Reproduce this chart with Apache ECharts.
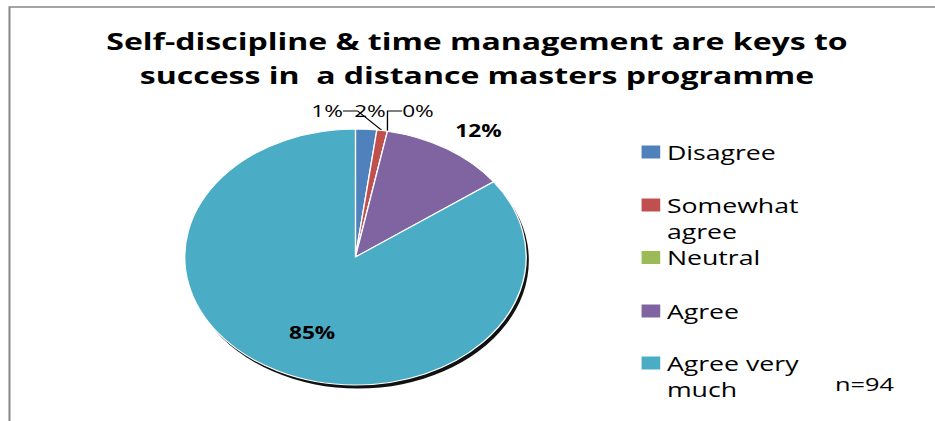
<!DOCTYPE html>
<html><head><meta charset="utf-8">
<script src="https://cdn.jsdelivr.net/npm/echarts@6/dist/echarts.min.js"></script>
<style>
html,body{margin:0;padding:0;background:#fff;overflow:hidden;}
#chart{width:701px;height:421px;transform:scaleX(1.3338);transform-origin:0 0;}
</style></head><body><div id="chart"></div>
<script>
// ---- data ----
const categories = ['Disagree', 'Somewhat agree', 'Neutral', 'Agree', 'Agree very much'];
const percentValues = [2, 1, 0, 12, 85];
const sliceColors = ['#4F81BD', '#C0504D', '#9BBB59', '#8064A2', '#4BACC6'];
const titleLines = ['Self-discipline & time management are keys to', 'success in  a distance masters programme'];
const sampleNote = 'n=94';

// ---- layout (unscaled px; the page is stretched horizontally like the reference) ----
const FONT = '"Open Sans", "DejaVu Sans", sans-serif';
const labelPos = [[277.4, 111], [245.2, 111], [313.4, 111], [358.7, 131], [234, 333]];
const legendWrap = {'Somewhat agree': '\nSomewhat\nagree', 'Agree very much': '\nAgree very\nmuch'};
const legendTops = [139, 166, 244.5, 298, 324];
const LH = 26;

const chart = echarts.init(document.getElementById('chart'), null, {renderer: 'svg'});
const total = percentValues.reduce((a, b) => a + b, 0);

const legends = categories.map((name, i) => ({
  orient: 'vertical', left: 481, top: legendTops[i], padding: 0,
  itemWidth: 14, itemHeight: 13, icon: 'rect', selectedMode: false,
  itemStyle: {borderWidth: 0},
  data: [name],
  formatter: n => legendWrap[n] || n,
  textStyle: {fontFamily: FONT, fontSize: 20, color: '#000', lineHeight: LH}
}));

chart.setOption({
  animation: false,
  backgroundColor: '#fff',
  title: [
    {text: titleLines.join('\n'), left: 357.6, top: 24, padding: 0, textAlign: 'center',
     textStyle: {fontFamily: FONT, fontSize: 24, fontWeight: 'bold', color: '#000', lineHeight: 34}},
    {text: sampleNote, left: 626, top: 371, padding: 0,
     textStyle: {fontFamily: FONT, fontSize: 19, fontWeight: 'normal', color: '#000', lineHeight: 26}}
  ],
  legend: legends,
  graphic: [{type: 'rect', silent: true, z: -1,
    shape: {x: 7.1, y: 7, width: 1000, height: 1000},
    style: {fill: 'none', stroke: '#878787', lineWidth: 1.5}}],
  series: [
    {type: 'pie', name: 'shadow', silent: true, center: [268.5, 260.5], radius: 128, z: 1,
     label: {show: false}, labelLine: {show: false}, legendHoverLink: false,
     data: [{value: total, name: '_shadow'}], itemStyle: {color: '#111'}},
    {type: 'pie', name: 'Responses', center: [266.5, 257], radius: 128, startAngle: 90, clockwise: true,
     avoidLabelOverlap: false, z: 2, emphasis: {disabled: true},
     itemStyle: {borderColor: '#fff', borderWidth: 1},
     data: categories.map((name, i) => ({
       name: name, value: percentValues[i],
       itemStyle: {color: sliceColors[i]},
       label: {fontWeight: i >= 3 ? 'bold' : 'normal'},
       labelLine: {show: i === 1 || i === 2}
     })),
     label: {show: true, position: 'outside', formatter: '{c}%', fontFamily: FONT, fontSize: 17, color: '#000'},
     labelLine: {show: true, length: 10, length2: 11, lineStyle: {color: '#000', width: 1}},
     labelLayout: p => ({x: labelPos[p.dataIndex][0], y: labelPos[p.dataIndex][1], align: 'center', verticalAlign: 'middle'})
    }
  ]
});
</script></body></html>
